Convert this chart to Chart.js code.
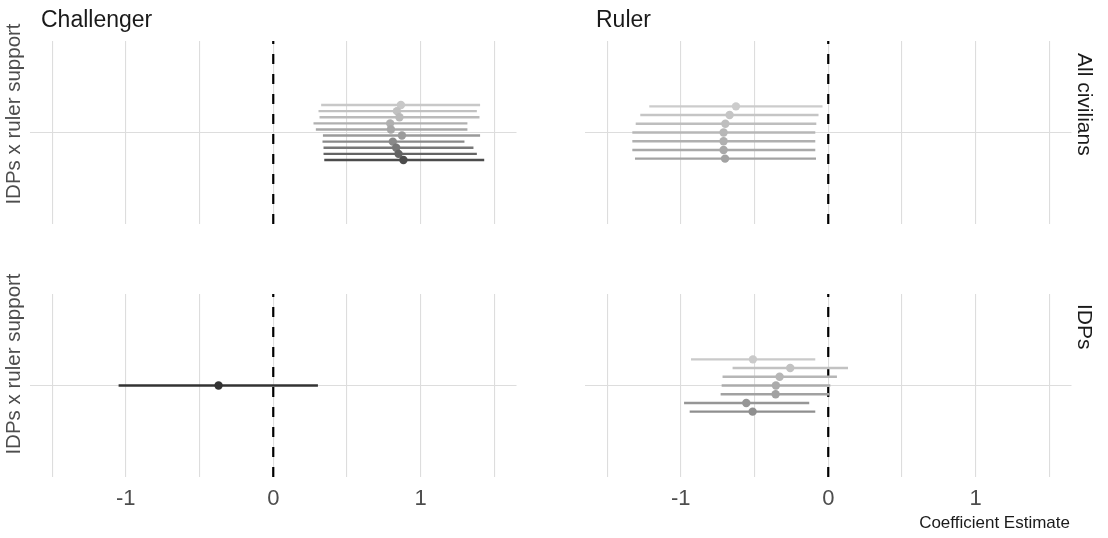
<!DOCTYPE html>
<html>
<head>
<meta charset="utf-8">
<script src="https://cdn.jsdelivr.net/npm/chart.js@4.4.1/dist/chart.umd.min.js"></script>
<style>
  html, body { margin: 0; padding: 0; background: #ffffff; }
  #wrap { position: relative; width: 1108px; height: 538px; overflow: hidden;
          font-family: "Liberation Sans", Arial, Helvetica, sans-serif; }
  #wrap canvas { position: absolute; left: 0; top: 0; }
  .lbl { position: absolute; white-space: nowrap; line-height: 1; }
  .strip { writing-mode: vertical-rl; }
  .ylab { transform: translate(-50%, -50%) rotate(-90deg); }
</style>
</head>
<body>
<div id="wrap">
  <canvas id="pTL" width="1108" height="538"></canvas>
  <canvas id="pTR" width="1108" height="538"></canvas>
  <canvas id="pBL" width="1108" height="538"></canvas>
  <canvas id="pBR" width="1108" height="538"></canvas>

  <div class="lbl" id="tChallenger" style="left:41px; top:8px; font-size:23px; color:#1a1a1a;"></div>
  <div class="lbl" id="tRuler" style="left:596px; top:8px; font-size:23px; color:#1a1a1a;"></div>
  <div class="lbl strip" id="sAll" style="left:1075px; top:53px; font-size:21px; color:#1a1a1a;"></div>
  <div class="lbl strip" id="sIdp" style="left:1075px; top:304px; font-size:21px; color:#1a1a1a;"></div>
  <div class="lbl ylab" id="yTop" style="left:13px; top:114px; font-size:20.5px; color:#4d4d4d;"></div>
  <div class="lbl ylab" id="yBot" style="left:13px; top:364px; font-size:20.5px; color:#4d4d4d;"></div>
  <div class="lbl" id="xTitle" style="right:38px; top:514px; font-size:17px; color:#1a1a1a;"></div>
</div>

<script>
// ---- labels ----
const panelTitles = ['Challenger', 'Ruler'];
const stripLabels = ['All civilians', 'IDPs'];
const termLabel = 'IDPs x ruler support';
const xAxisTitle = 'Coefficient Estimate';
const xTickValues = [-1.5, -1, -0.5, 0, 0.5, 1, 1.5];
const xTickLabels = ['', '-1', '', '0', '', '1', ''];

// ---- Challenger / All civilians ----
const chAllEst  = [0.866, 0.839, 0.856, 0.793, 0.798, 0.873, 0.811, 0.834, 0.850, 0.883];
const chAllLow  = [0.325, 0.307, 0.314, 0.273, 0.289, 0.337, 0.334, 0.341, 0.341, 0.346];
const chAllHigh = [1.403, 1.381, 1.399, 1.317, 1.317, 1.403, 1.297, 1.358, 1.381, 1.431];
const chAllShade = ['#c8c8c8', '#c1c1c1', '#bababa', '#b0b0b0', '#a8a8a8',
                    '#9a9a9a', '#898989', '#777777', '#646464', '#4c4c4c'];

// ---- Ruler / All civilians ----
const ruAllEst  = [-0.626, -0.669, -0.698, -0.710, -0.710, -0.710, -0.700];
const ruAllLow  = [-1.214, -1.275, -1.306, -1.329, -1.329, -1.329, -1.311];
const ruAllHigh = [-0.039, -0.066, -0.081, -0.088, -0.088, -0.088, -0.083];
const ruAllShade = ['#cccccc', '#c5c5c5', '#bebebe', '#b7b7b7', '#b0b0b0', '#a9a9a9', '#a3a3a3'];

// ---- Challenger / IDPs ----
const chIdpEst  = [-0.371];
const chIdpLow  = [-1.049];
const chIdpHigh = [0.303];
const chIdpShade = ['#333333'];

// ---- Ruler / IDPs ----
const ruIdpEst  = [-0.511, -0.258, -0.330, -0.355, -0.357, -0.556, -0.513];
const ruIdpLow  = [-0.931, -0.649, -0.717, -0.723, -0.730, -0.978, -0.940];
const ruIdpHigh = [-0.088, 0.134, 0.059, 0.014, 0.009, -0.129, -0.088];
const ruIdpShade = ['#cacaca', '#c2c2c2', '#b6b6b6', '#ababab', '#a1a1a1', '#969696', '#8f8f8f'];

// ---- text ----
document.getElementById('tChallenger').textContent = panelTitles[0];
document.getElementById('tRuler').textContent = panelTitles[1];
document.getElementById('sAll').textContent = stripLabels[0];
document.getElementById('sIdp').textContent = stripLabels[1];
document.getElementById('yTop').textContent = termLabel;
document.getElementById('yBot').textContent = termLabel;
document.getElementById('xTitle').textContent = xAxisTitle;

// ---- panels ----
const W = 1108, H = 538;
const FONT = '"Liberation Sans", Arial, Helvetica, sans-serif';
const DODGE = 0.4;          // total dodge width in y units
const Y_HALF = 0.6;         // y range is [-Y_HALF, Y_HALF]
const X_MIN = -1.65, X_MAX = 1.65;
const GRID = '#dddddd';
const TICK_BAND = 40;       // height reserved under bottom panels for tick labels

function makePanel(id, box, est, low, high, shades, showTicks) {
  const n = est.length;
  const step = DODGE / n;
  const ypos = est.map((_, i) => ((n - 1) / 2 - i) * step);

  const datasets = [];
  // estimates (on top)
  datasets.push({
    type: 'scatter',
    data: est.map((v, i) => ({ x: v, y: ypos[i] })),
    pointRadius: 4.2,
    pointBorderWidth: 0,
    pointBackgroundColor: shades,
    pointBorderColor: shades,
    order: 0
  });
  // confidence intervals
  est.forEach((_, i) => {
    datasets.push({
      type: 'line',
      data: [{ x: low[i], y: ypos[i] }, { x: high[i], y: ypos[i] }],
      borderColor: shades[i],
      borderWidth: 2.4,
      borderCapStyle: 'butt',
      pointRadius: 0,
      order: 1
    });
  });
  // zero reference
  datasets.push({
    type: 'line',
    data: [{ x: 0, y: -Y_HALF }, { x: 0, y: Y_HALF }],
    borderColor: '#000000',
    borderWidth: 2.2,
    borderDash: [10, 10],
    borderCapStyle: 'butt',
    pointRadius: 0,
    order: 2
  });

  return new Chart(document.getElementById(id), {
    type: 'scatter',
    data: { datasets },
    options: {
      responsive: false,
      animation: false,
      events: [],
      layout: {
        padding: {
          left: box.left,
          right: W - box.right,
          top: box.top,
          bottom: H - box.bottom - (showTicks ? TICK_BAND : 0)
        }
      },
      plugins: { legend: { display: false }, tooltip: { enabled: false } },
      scales: {
        x: {
          type: 'linear',
          min: X_MIN, max: X_MAX,
          afterBuildTicks: s => { s.ticks = xTickValues.map(v => ({ value: v })); },
          afterFit: s => { s.height = showTicks ? TICK_BAND : 0; },
          ticks: {
            display: showTicks,
            autoSkip: false,
            maxRotation: 0,
            padding: 9,
            color: '#4d4d4d',
            font: { family: FONT, size: 22 },
            callback: v => xTickLabels[xTickValues.indexOf(v)]
          },
          grid: { color: GRID, lineWidth: 1.1, drawTicks: false },
          border: { display: false }
        },
        y: {
          type: 'linear',
          min: -Y_HALF, max: Y_HALF,
          afterBuildTicks: s => { s.ticks = [{ value: 0 }]; },
          afterFit: s => { s.width = 0; },
          ticks: { display: false },
          grid: { color: GRID, lineWidth: 1.1, drawTicks: false },
          border: { display: false }
        }
      }
    }
  });
}

makePanel('pTL', { left: 30,  right: 516.5,  top: 41,  bottom: 224 }, chAllEst, chAllLow, chAllHigh, chAllShade, false);
makePanel('pTR', { left: 585, right: 1071.5, top: 41,  bottom: 224 }, ruAllEst, ruAllLow, ruAllHigh, ruAllShade, false);
makePanel('pBL', { left: 30,  right: 516.5,  top: 294, bottom: 477 }, chIdpEst, chIdpLow, chIdpHigh, chIdpShade, true);
makePanel('pBR', { left: 585, right: 1071.5, top: 294, bottom: 477 }, ruIdpEst, ruIdpLow, ruIdpHigh, ruIdpShade, true);
</script>
</body>
</html>
